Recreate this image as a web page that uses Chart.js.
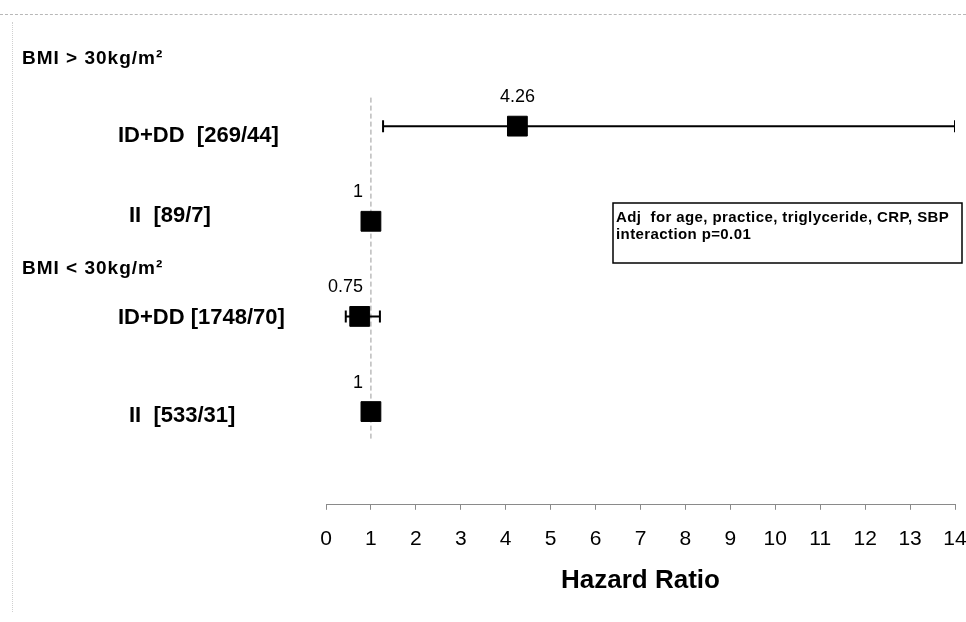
<!DOCTYPE html>
<html>
<head>
<meta charset="utf-8">
<script src="https://cdn.jsdelivr.net/npm/chart.js@4.4.1/dist/chart.umd.min.js"></script>
<style>
    html, body { margin: 0; padding: 0; background: #fff; }
    #wrap { position: relative; width: 966px; height: 622px; overflow: hidden; }
    #frame-top { position: absolute; left: 0; top: 14px; width: 966px; border-top: 1px dashed #b8b8b8; }
    #frame-left { position: absolute; left: 12px; top: 22px; height: 590px; border-left: 1px dotted #d0d0d0; }
    canvas { position: absolute; left: 0; top: 0; }
</style>
</head>
<body>
<div id="wrap">
    <div id="frame-top"></div>
    <div id="frame-left"></div>
    <canvas id="forest" width="966" height="622"></canvas>
</div>
<script>
// Forest plot: hazard ratio by genotype within BMI strata
const groupLabels = ['BMI > 30kg/m\u00B2', 'BMI < 30kg/m\u00B2'];
const rowLabels = ['ID+DD  [269/44]', 'II  [89/7]', 'ID+DD [1748/70]', 'II  [533/31]'];
const hazardRatios = [4.26, 1, 0.75, 1];
const ciLower = [1.27, null, 0.44, null];
const ciUpper = [14, null, 1.2, null];
const xTickValues = [0, 1, 2, 3, 4, 5, 6, 7, 8, 9, 10, 11, 12, 13, 14];
const noteLines = ['Adj  for age, practice, triglyceride, CRP, SBP', 'interaction p=0.01'];

// layout only (row slots on the hidden y scale, label nudges in px)
const rowSlots = [1, 2, 3, 4];
const groupSlots = [0.29, 2.5];
const rowLabelX = [118, 129, 118, 129];
const rowLabelNudge = [10, -5, 2, 4];

const FONT = '"Liberation Sans", Arial, Helvetica, sans-serif';
Chart.defaults.font.family = FONT;
Chart.defaults.color = '#000';

const squares = {
    label: 'HR',
    data: hazardRatios.map((v, i) => ({ x: v, y: rowSlots[i] })),
    pointStyle: 'rect',
    pointRadius: 14,
    pointHoverRadius: 14,
    backgroundColor: '#000',
    borderColor: '#000',
    borderWidth: 1,
    order: 0
};

const whiskers = [];
hazardRatios.forEach((v, i) => {
    if (ciLower[i] === null) return;
    whiskers.push({
        label: 'CI ' + i,
        data: [{ x: ciLower[i], y: rowSlots[i] }, { x: ciUpper[i], y: rowSlots[i] }],
        showLine: true,
        borderColor: '#000',
        borderWidth: 2,
        pointStyle: 'line',
        rotation: 90,
        pointRadius: 6,
        pointBorderWidth: 2,
        pointBorderColor: '#000',
        order: 1
    });
});

const refLine = {
    label: 'HR = 1',
    data: [{ x: 1, y: 0.7 }, { x: 1, y: 4.3 }],
    showLine: true,
    borderColor: '#9a9a9a',
    borderWidth: 1,
    borderDash: [5, 3],
    pointRadius: 0,
    order: 2
};

const forestText = {
    id: 'forestText',
    afterDatasetsDraw(chart) {
        const { ctx, scales: { x, y } } = chart;
        ctx.save();
        ctx.fillStyle = '#000';
        ctx.textBaseline = 'middle';

        ctx.font = 'bold 19px ' + FONT;
        if ('letterSpacing' in ctx) ctx.letterSpacing = '1px';
        groupLabels.forEach((t, i) => {
            ctx.fillText(t, 22, y.getPixelForValue(groupSlots[i]));
        });
        if ('letterSpacing' in ctx) ctx.letterSpacing = '0px';

        ctx.font = 'bold 22px ' + FONT;
        ctx.textAlign = 'left';
        rowLabels.forEach((t, i) => {
            ctx.fillText(t, rowLabelX[i], y.getPixelForValue(rowSlots[i]) + rowLabelNudge[i]);
        });

        // value labels above each square
        ctx.font = '18px ' + FONT;
        const refX = x.getPixelForValue(1);
        hazardRatios.forEach((v, i) => {
            const py = y.getPixelForValue(rowSlots[i]) - 29;
            if (v <= 1) {
                ctx.textAlign = 'right';
                ctx.fillText(String(v), refX - 8, py);
            } else {
                ctx.textAlign = 'center';
                ctx.fillText(String(v), x.getPixelForValue(v), py);
            }
        });

        // note box
        ctx.lineWidth = 1.5;
        ctx.strokeStyle = '#000';
        ctx.strokeRect(613, 203, 349, 60);
        ctx.font = 'bold 15px ' + FONT;
        ctx.textAlign = 'left';
        if ('letterSpacing' in ctx) ctx.letterSpacing = '0.4px';
        noteLines.forEach((t, i) => {
            ctx.fillText(t, 616, 218 + i * 17);
        });
        ctx.restore();
    }
};

new Chart(document.getElementById('forest').getContext('2d'), {
    type: 'scatter',
    data: { datasets: [squares].concat(whiskers, [refLine]) },
    options: {
        responsive: false,
        animation: false,
        devicePixelRatio: 1,
        layout: { autoPadding: false, padding: { left: 326, right: 11, top: 31, bottom: 28 } },
        plugins: {
            legend: { display: false },
            tooltip: { enabled: false }
        },
        scales: {
            x: {
                type: 'linear',
                min: 0,
                max: 14,
                afterBuildTicks: (scale) => {
                    scale.ticks = xTickValues.map(v => ({ value: v }));
                },
                afterFit: (scale) => {
                    scale.paddingLeft = 0;
                    scale.paddingRight = 0;
                },
                border: { display: true, color: '#8a8a8a', width: 1, dash: [8, 2] },
                grid: { drawOnChartArea: false, drawTicks: true, tickLength: 5, color: '#8a8a8a' },
                ticks: { padding: 17, font: { size: 21 }, color: '#000', maxRotation: 0, autoSkip: false },
                title: {
                    display: true,
                    text: 'Hazard Ratio',
                    font: { size: 26, weight: 'bold', lineHeight: 1 },
                    color: '#000',
                    padding: { top: -1, bottom: 0 }
                }
            },
            y: {
                type: 'linear',
                display: false,
                reverse: true,
                min: 0,
                max: 4.98
            }
        }
    },
    plugins: [forestText]
});
</script>
</body>
</html>
